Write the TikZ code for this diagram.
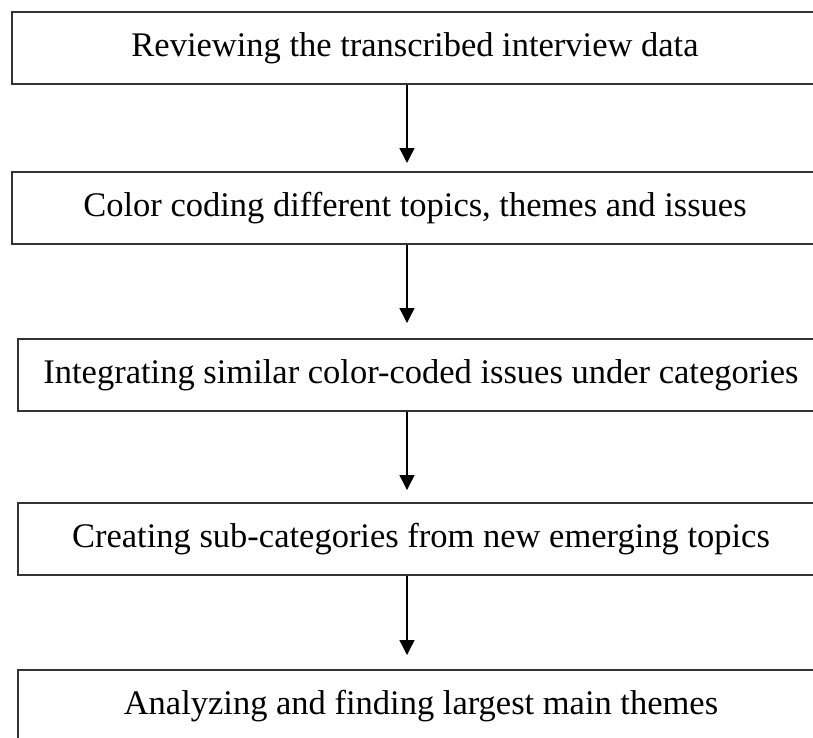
\documentclass[tikz,border=0pt]{standalone}
\usepackage{fontspec}
\setmainfont{Liberation Serif}
\usetikzlibrary{arrows.meta}
\begin{document}
\begin{tikzpicture}[x=1pt,y=1pt,
  stepbox/.style={draw=black!80, line width=2pt, rectangle, minimum width=806pt, minimum height=72pt, inner sep=0pt, font=\fontsize{34.5}{40}\selectfont, anchor=north west},
  flow/.style={line width=1.4pt, -{Triangle[length=15pt,width=15pt]}}]
\useasboundingbox (0,0) rectangle (813,-737);
\fill[white] (0,0) rectangle (813,-737);
\node[stepbox] (b1) at (11,-11) {Reviewing the transcribed interview data};
\node[stepbox] (b2) at (11,-171) {Color coding different topics, themes and issues};
\node[stepbox] (b3) at (17,-338) {Integrating similar color-coded issues under categories};
\node[stepbox] (b4) at (17,-502) {Creating sub-categories from new emerging topics};
\node[stepbox] (b5) at (17,-669) {Analyzing and finding largest main themes};
\coordinate (t1) at (407,-163);
\coordinate (t2) at (407,-323);
\coordinate (t3) at (407,-490);
\coordinate (t4) at (407,-655);
\draw[flow] (b1.south -| t1) -- (t1);
\draw[flow] (b2.south -| t2) -- (t2);
\draw[flow] (b3.south -| t3) -- (t3);
\draw[flow] (b4.south -| t4) -- (t4);
\end{tikzpicture}
\end{document}
